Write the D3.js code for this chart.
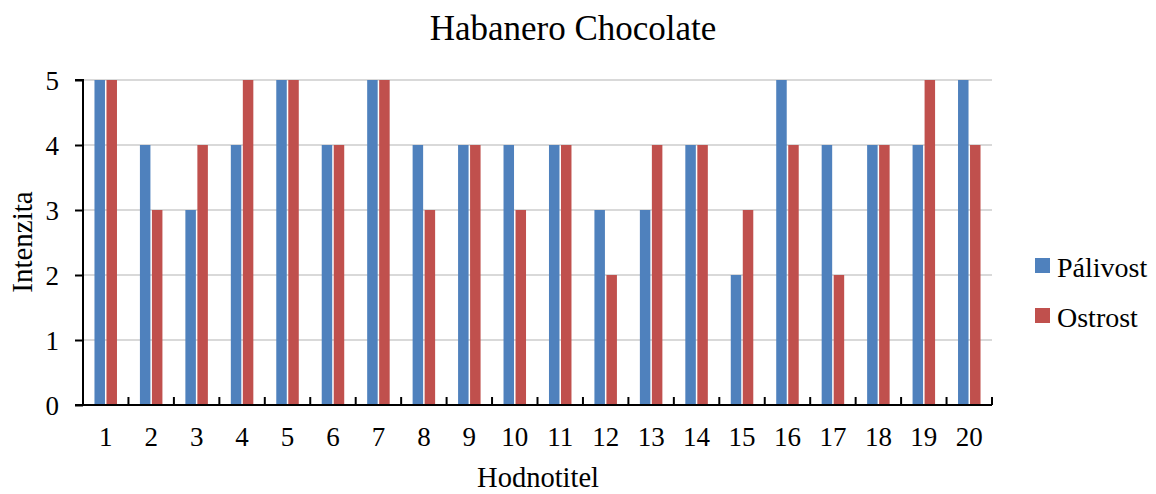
<!DOCTYPE html>
<html><head><meta charset="utf-8">
<script src="https://cdn.jsdelivr.net/npm/d3@7"></script>
<style>body{margin:0;background:#fff}svg{display:block}svg text{font-family:"Liberation Serif","Times New Roman",serif !important;fill:#000}</style>
</head><body>
<svg id="c" width="1156" height="494"></svg>
<script>
const categories = ["1","2","3","4","5","6","7","8","9","10","11","12","13","14","15","16","17","18","19","20"];
const palivost = [5,4,3,4,5,4,5,4,4,4,4,3,3,4,2,5,4,4,4,5];
const ostrost  = [5,3,4,5,5,4,5,3,4,3,4,2,4,4,3,4,2,4,5,4];
const seriesNames = ["Pálivost","Ostrost"];
const colors = ["#4F81BD","#C0504D"];
const yTicks = [0,1,2,3,4,5];

const svg = d3.select("#c");
const L=83,R=992,T=80,B=405;
const x = d3.scaleBand().domain(categories).range([L,R]).padding(0);
const xi = d3.scaleBand().domain(seriesNames).range([0,x.bandwidth()]).paddingInner(0.125).paddingOuter(0.956);
const y = d3.scaleLinear().domain([0,5]).range([B,T]);

// gridlines
svg.append("g").selectAll("line").data(yTicks.filter(d=>d>0)).join("line")
  .attr("x1",L).attr("x2",R).attr("y1",d=>y(d)).attr("y2",d=>y(d))
  .attr("stroke","#D9D9D9").attr("stroke-width",2);

// bars
const data = [palivost, ostrost];
seriesNames.forEach((s,si)=>{
  svg.append("g").selectAll("rect").data(categories).join("rect")
    .attr("x",(c)=>x(c)+xi(s))
    .attr("width",xi.bandwidth())
    .attr("y",(c,i)=>y(data[si][i]))
    .attr("height",(c,i)=>B-y(data[si][i]))
    .attr("fill",colors[si]);
});

// y axis
const ya = svg.append("g").attr("transform",`translate(${L},0)`)
  .call(d3.axisLeft(y).tickValues(yTicks).tickSize(8).tickPadding(16).tickFormat(d3.format("d")));
ya.attr("font-family",null);
ya.select(".domain").attr("stroke","#000").attr("stroke-width",2).attr("d",`M-8,${T}H0V${B}H-8`);
ya.selectAll(".tick line").attr("stroke","#000").attr("stroke-width",2);
ya.selectAll(".tick text").attr("font-size",27).attr("fill","#000").attr("dy","0.34em");

// x axis
const xa = svg.append("g").attr("transform",`translate(0,${B})`)
  .call(d3.axisBottom(x).tickSize(0).tickPadding(22));
xa.attr("font-family",null);
xa.select(".domain").attr("stroke","#000").attr("stroke-width",2).attr("d",`M${L},0H${R}`);
xa.selectAll(".tick text").attr("font-size",27).attr("fill","#000");
// category boundary ticks (inside)
const bounds = categories.map(c=>x(c)).slice(1).concat([R]);
svg.append("g").selectAll("line").data(bounds).join("line")
  .attr("x1",d=>d).attr("x2",d=>d).attr("y1",B).attr("y2",B-8)
  .attr("stroke","#000").attr("stroke-width",2);

// titles
svg.append("text").attr("x",573).attr("y",40).attr("text-anchor","middle").attr("font-size",35).text("Habanero Chocolate");
svg.append("text").attr("x",538).attr("y",487).attr("text-anchor","middle").attr("font-size",28.5).text("Hodnotitel");
svg.append("text").attr("transform","translate(32,242) rotate(-90)").attr("text-anchor","middle").attr("font-size",29).text("Intenzita");

// legend
const lg = svg.append("g");
seriesNames.forEach((s,i)=>{
  const yy = 258 + i*50;
  lg.append("rect").attr("x",1035).attr("y",yy).attr("width",15).attr("height",15).attr("fill",colors[i]);
  lg.append("text").attr("x",1057).attr("y",yy+19).attr("font-size",28).text(s);
});
</script>
</body></html>
